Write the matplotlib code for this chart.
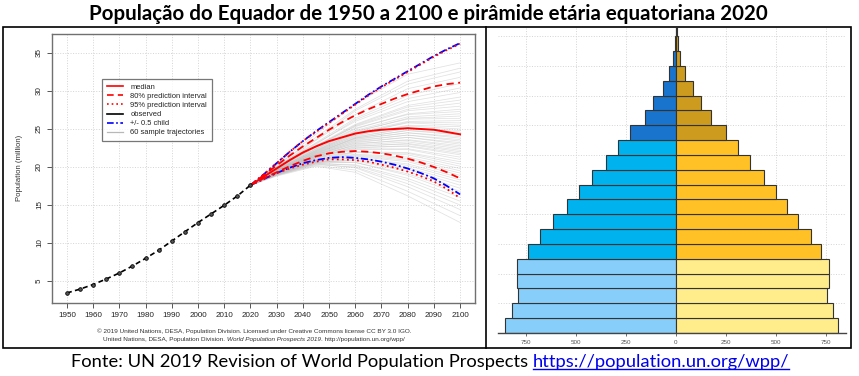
import matplotlib
matplotlib.use("Agg")
import matplotlib.pyplot as plt
from matplotlib.patches import Rectangle
from matplotlib.lines import Line2D

# ---- data: Ecuador population (million) ----
obs_years = list(range(1950, 2021, 5))
obs_pop = [3.42, 3.93, 4.53, 5.26, 6.05, 6.97, 7.98, 9.04, 10.25, 11.48, 12.68, 13.82, 14.96, 16.18, 17.6]

proj_years = list(range(2020, 2101, 5))
median = [17.6, 18.7, 19.8, 20.9, 21.9, 22.7, 23.4, 23.9, 24.4, 24.7, 24.9, 25.0, 25.1, 25.0, 24.9, 24.6, 24.3]
pi80_up = [17.6, 18.9, 20.2, 21.5, 22.7, 23.8, 24.9, 25.9, 26.8, 27.6, 28.3, 29.0, 29.6, 30.1, 30.6, 30.9, 31.1]
pi80_lo = [17.6, 18.5, 19.3, 20.1, 20.8, 21.4, 21.8, 22.0, 22.1, 22.0, 21.8, 21.5, 21.1, 20.6, 20.0, 19.3, 18.5]
pi95_up = [17.6, 19.0, 20.5, 22.0, 23.4, 24.6, 25.8, 27.0, 28.2, 29.4, 30.5, 31.5, 32.5, 33.5, 34.5, 35.4, 36.2]
pi95_lo = [17.6, 18.4, 19.2, 19.8, 20.3, 20.7, 21.0, 21.0, 20.9, 20.7, 20.3, 19.9, 19.4, 18.8, 18.1, 17.1, 15.9]
child_up = [17.6, 19.0, 20.5, 22.0, 23.4, 24.7, 25.9, 27.1, 28.3, 29.5, 30.6, 31.6, 32.6, 33.6, 34.6, 35.5, 36.3]
child_lo = [17.6, 18.4, 19.2, 19.9, 20.5, 20.9, 21.2, 21.3, 21.2, 21.0, 20.7, 20.3, 19.8, 19.2, 18.5, 17.5, 16.4]

# sample trajectories: values at 2030, 2045, 2060, 2080, 2100 (all start at 17.6 in 2020)
traj_years = [2020, 2030, 2045, 2060, 2080, 2100]
trajectories = [
    [20.4, 24.3, 28.3, 32.2, 33.7], [20.2, 23.9, 27.6, 31.3, 33.0], [20.3, 23.6, 27.4, 30.9, 32.5],
    [20.0, 23.5, 26.9, 30.3, 31.8], [20.1, 23.2, 26.4, 29.4, 31.0], [19.9, 23.0, 26.2, 29.0, 30.4],
    [20.0, 23.1, 26.0, 28.6, 29.8], [19.8, 22.8, 25.6, 28.1, 29.2], [19.9, 22.7, 25.5, 27.9, 28.8],
    [19.7, 22.6, 25.4, 27.6, 28.4], [19.8, 22.8, 25.3, 27.4, 28.0], [19.6, 22.4, 25.0, 27.0, 27.6],
    [19.8, 22.6, 25.1, 26.9, 27.3], [19.7, 22.3, 24.8, 26.6, 27.0], [19.5, 22.2, 24.6, 26.4, 26.7],
    [19.7, 22.4, 24.7, 26.3, 26.4], [19.6, 22.1, 24.5, 26.0, 26.1], [19.5, 22.0, 24.3, 25.9, 25.8],
    [19.7, 22.2, 24.4, 25.8, 25.5], [19.4, 21.9, 24.1, 25.5, 25.3], [19.6, 22.1, 24.2, 25.4, 25.0],
    [19.5, 21.8, 23.9, 25.1, 24.8], [19.6, 22.0, 24.0, 25.1, 24.6], [19.3, 21.7, 23.8, 24.8, 24.4],
    [19.5, 21.9, 23.8, 24.8, 24.2], [19.4, 21.6, 23.6, 24.5, 24.0], [19.6, 21.8, 23.7, 24.5, 23.8],
    [19.3, 21.5, 23.4, 24.2, 23.6], [19.5, 21.7, 23.5, 24.2, 23.4], [19.4, 21.4, 23.2, 23.9, 23.2],
    [19.6, 21.6, 23.3, 23.9, 23.0], [19.3, 21.3, 23.0, 23.6, 22.8], [19.5, 21.6, 23.1, 23.5, 22.6],
    [19.4, 21.4, 22.9, 23.3, 22.4], [19.2, 21.2, 22.7, 23.1, 22.2], [19.4, 21.5, 22.8, 23.0, 22.0],
    [19.3, 21.2, 22.5, 22.8, 21.8], [19.5, 21.4, 22.6, 22.7, 21.6], [19.2, 21.1, 22.3, 22.4, 21.3],
    [19.4, 21.3, 22.4, 22.3, 21.0], [19.3, 21.0, 22.0, 21.9, 20.7], [19.1, 20.9, 21.9, 21.8, 20.4],
    [19.4, 21.2, 22.0, 21.6, 20.1], [19.2, 20.9, 21.7, 21.3, 19.8], [19.3, 21.0, 21.6, 21.1, 19.5],
    [19.1, 20.8, 21.5, 20.9, 19.2], [19.3, 20.9, 21.4, 20.7, 18.9], [19.0, 20.7, 21.2, 20.4, 18.6],
    [19.2, 20.8, 21.2, 20.2, 18.3], [19.1, 20.6, 21.0, 19.9, 18.0], [19.0, 20.6, 20.9, 19.7, 17.6],
    [19.2, 20.7, 20.8, 19.4, 17.2], [19.0, 20.5, 20.6, 19.1, 16.8], [19.1, 20.6, 20.6, 18.9, 16.4],
    [18.9, 20.4, 20.3, 18.5, 16.0], [19.0, 20.5, 20.2, 18.2, 15.5], [18.9, 20.3, 20.0, 17.8, 15.0],
    [19.0, 20.4, 19.9, 17.4, 14.4], [18.9, 20.2, 19.6, 16.8, 13.6], [18.8, 20.1, 19.3, 16.2, 12.7],
]

# ---- data: age pyramid 2020 (thousands) ----
age_groups = ['0-4', '5-9', '10-14', '15-19', '20-24', '25-29', '30-34', '35-39', '40-44', '45-49',
              '50-54', '55-59', '60-64', '65-69', '70-74', '75-79', '80-84', '85-89', '90-94', '95-99', '100+']
male = [853, 820, 791, 795, 795, 742, 680, 614, 543, 485, 422, 351, 288, 232, 154, 113, 66, 33, 13, 5, 2]
female = [810, 785, 757, 763, 767, 727, 677, 611, 553, 500, 439, 371, 308, 248, 174, 127, 86, 45, 20, 8, 5]

W, H = 859, 376
fig = plt.figure(figsize=(W / 100, H / 100), dpi=100)
plt.rcParams['font.family'] = 'Liberation Sans'


def fx(px):
    return px / W


def fy(py):
    return 1 - py / H


# ---------------- left: projection chart ----------------
ax = fig.add_axes([fx(52), fy(303), (475 - 52) / W, (303 - 34) / H])
ax.set_xlim(1944.3, 2105.7)
ax.set_ylim(2.1, 37.5)
ax.set_xticks(range(1950, 2101, 10))
ax.set_yticks(range(5, 36, 5))
ax.grid(True, color='#d4d4d4', linestyle=':', linewidth=0.7)
ax.set_axisbelow(True)
for s in ax.spines.values():
    s.set_color('#707070')
    s.set_linewidth(1.0)
ax.tick_params(axis='both', labelsize=5.8, length=3.5, width=0.7, color='#555555', labelcolor='#222222', pad=3)
ax.tick_params(axis='y', labelrotation=90, pad=3)
for lab in ax.get_yticklabels():
    lab.set_va('center')

for tr in trajectories:
    ax.plot(traj_years, [17.6] + tr, color='#bdbdbd', lw=0.55, alpha=0.45)

ax.plot(proj_years, child_up, color='blue', lw=1.3, ls=(0, (4, 1.5, 1, 1.5)))
ax.plot(proj_years, child_lo, color='blue', lw=1.3, ls=(0, (4, 1.5, 1, 1.5)))
ax.plot(proj_years, pi95_up, color='red', lw=1.3, ls=(0, (1, 1.8)))
ax.plot(proj_years, pi95_lo, color='red', lw=1.3, ls=(0, (1, 1.8)))
ax.plot(proj_years, pi80_up, color='red', lw=1.3, ls=(0, (4, 2.5)))
ax.plot(proj_years, pi80_lo, color='red', lw=1.3, ls=(0, (4, 2.5)))
ax.plot(proj_years, median, color='red', lw=1.4)
ax.plot(obs_years, obs_pop, color='black', lw=1.2, ls=(0, (3, 2)),
        marker='o', ms=2.6, mfc='#555555', mec='black', mew=0.6)

handles = [
    Line2D([], [], color='red', lw=1.2),
    Line2D([], [], color='red', lw=1.2, ls=(0, (4, 2.5))),
    Line2D([], [], color='red', lw=1.2, ls=(0, (1, 1.8))),
    Line2D([], [], color='black', lw=1.2),
    Line2D([], [], color='blue', lw=1.2, ls=(0, (4, 1.5, 1, 1.5))),
    Line2D([], [], color='#b8b8b8', lw=0.9),
]
labels = ['median', '80% prediction interval', '95% prediction interval', 'observed',
          '+/- 0.5 child', '60 sample trajectories']
leg = ax.legend(handles, labels, loc='upper left', bbox_to_anchor=((102 - 52) / 423, (303 - 79) / 269),
                borderaxespad=0, fontsize=5.4, frameon=True, fancybox=False, handlelength=2.2,
                labelspacing=0.25, borderpad=0.6, handletextpad=1.0)
leg.get_frame().set_edgecolor('#555555')
leg.get_frame().set_linewidth(0.9)
for t in leg.get_texts():
    t.set_color('#222222')

fig.text(fx(20), fy(168), 'Population (million)', rotation=90, ha='center', va='center',
         fontsize=5.6, color='#333333')

r = fig.canvas.get_renderer()
fig.text(fx(254), fy(331), '\u00a9 2019 United Nations, DESA, Population Division. Licensed under '
         'Creative Commons license CC BY 3.0 IGO.', ha='center', va='center', fontsize=4.6, color='#333333')
parts = [('United Nations, DESA, Population Division. ', 'normal'),
         ('World Population Prospects 2019', 'italic'),
         ('. http://population.un.org/wpp/', 'normal')]
arts = [fig.text(0, fy(339), s, style=st, va='center', fontsize=4.6, color='#333333') for s, st in parts]
widths = [a.get_window_extent(r).width for a in arts]
x = 254 - sum(widths) / 2
for a, w in zip(arts, widths):
    a.set_x(fx(x))
    x += w

# ---------------- right: age pyramid ----------------
ax2 = fig.add_axes([fx(498), fy(333), (846 - 498) / W, (333 - 28) / H])
ax2.set_xlim(-890, 850)
ax2.set_ylim(0, 20.56)
pos = list(range(len(age_groups)))
left_col = ['#87CEFA'] * 5 + ['#00B2EE'] * 8 + ['#1874CD'] * 8
right_col = ['#FFEC8B'] * 5 + ['#FFC125'] * 8 + ['#CD9B1D'] * 8
ax2.barh(pos, [-m for m in male], height=1, align='edge', color=left_col, edgecolor='#333333', lw=0.8, zorder=2)
ax2.barh(pos, female, height=1, align='edge', color=right_col, edgecolor='#333333', lw=0.8, zorder=2)
ax2.set_xticks([-750, -500, -250, 0, 250, 500, 750])
ax2.set_xticklabels(['750', '500', '250', '0', '250', '500', '750'])
ax2.set_yticks(range(2, 21, 2))
ax2.set_yticklabels([])
ax2.tick_params(axis='y', length=0)
ax2.tick_params(axis='x', labelsize=4.5, labelcolor='#555555', length=2, width=0.6, color='#555555', pad=3)
ax2.grid(True, color='#d4d4d4', linestyle=':', linewidth=0.7, zorder=0)
ax2.set_axisbelow(True)
for side in ['left', 'right', 'top']:
    ax2.spines[side].set_visible(False)
ax2.spines['bottom'].set_color('#444444')
ax2.spines['bottom'].set_linewidth(1.0)

# ---------------- frames ----------------
fig.add_artist(Rectangle((fx(3), fy(348)), (851 - 3) / W, (348 - 27) / H, transform=fig.transFigure,
                         fill=False, edgecolor='black', lw=1.2))
fig.add_artist(Line2D([fx(486), fx(486)], [fy(348), fy(27)], transform=fig.transFigure, color='black', lw=1.2))

# ---------------- title and source ----------------
title = fig.text(fx(428), fy(20), 'População do Equador de 1950 a 2100 e pirâmide etária equatoriana 2020',
                 ha='center', va='baseline', fontsize=13, fontweight='bold', family='Lato')
w = title.get_window_extent(r).width
title.set_fontsize(13 * 676 / w)

src = [('Fonte: UN 2019 Revision of World Population Prospects ', 'black'),
       ('https://population.un.org/wpp/', '#0000EE')]
arts = [fig.text(0, fy(367), s, va='baseline', fontsize=13, color=c, family='Lato') for s, c in src]
k = 716 / sum(a.get_window_extent(r).width for a in arts)
for a in arts:
    a.set_fontsize(13 * k)
x = 71
for a in arts:
    a.set_x(fx(x))
    x += a.get_window_extent(r).width
bb = arts[1].get_window_extent(r)
fig.add_artist(Line2D([fx(bb.x0), fx(bb.x1)], [fy(369), fy(369)], transform=fig.transFigure,
                      color='#0000EE', lw=1.0))

fig.savefig('out.png', dpi=100)
